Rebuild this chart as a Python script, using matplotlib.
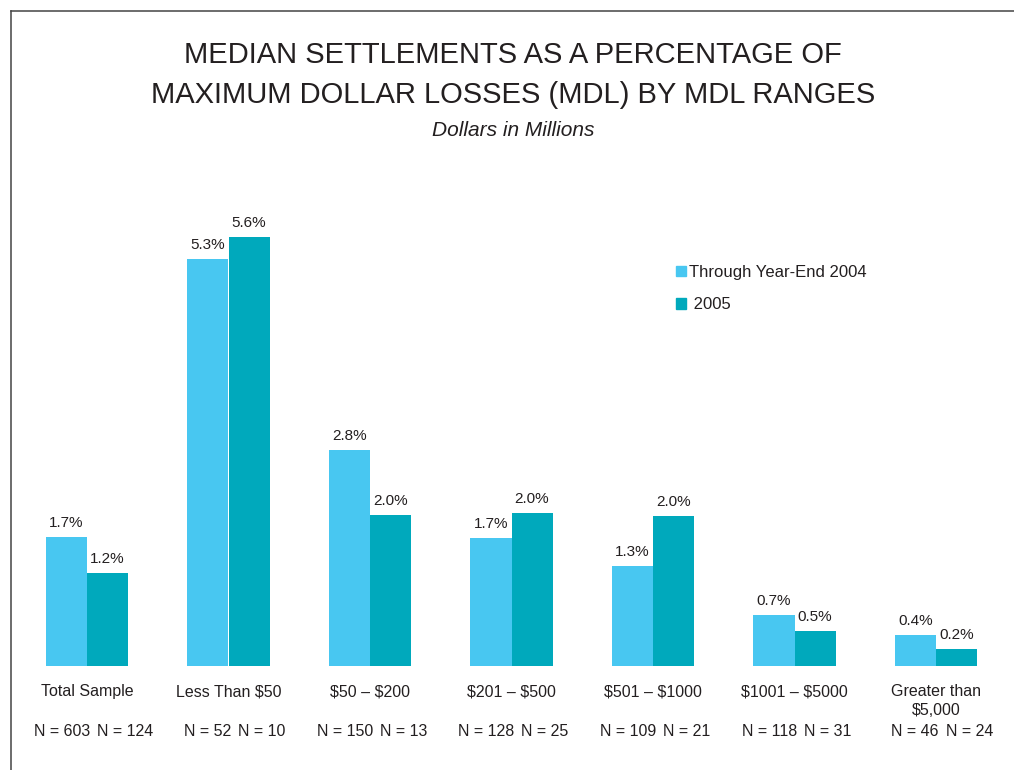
import matplotlib
matplotlib.use("Agg")
import matplotlib.pyplot as plt
from matplotlib.lines import Line2D
from matplotlib.patches import Patch
from matplotlib.transforms import blended_transform_factory
import numpy as np

plt.rcParams['font.family'] = ['Liberation Sans', 'DejaVu Sans']

# data
categories = ["Total Sample", "Less Than $50", "$50 \u2013 $200", "$201 \u2013 $500",
              "$501 \u2013 $1000", "$1001 \u2013 $5000", "Greater than\n$5,000"]
through_2004 = [1.68, 5.31, 2.82, 1.67, 1.30, 0.66, 0.40]
year_2005 = [1.21, 5.59, 1.97, 1.99, 1.96, 0.46, 0.22]
n_2004 = [603, 52, 150, 128, 109, 118, 46]
n_2005 = [124, 10, 13, 25, 21, 31, 24]
series_names = ["Through Year-End 2004", " 2005"]

LIGHT = "#48C7F1"
DARK = "#00A9BC"
TXT = "#231F20"

W, H = 1014, 770
fig = plt.figure(figsize=(W / 100, H / 100), dpi=100)

# axes placed so that bar groups land where the reference puts them
ax = fig.add_axes([16.25 / W, 104 / H, 990.5 / W, 537 / H])
ax.set_xlim(-0.5, 6.5)
ax.set_ylim(0, 7)
ax.axis("off")

x = np.arange(len(categories))
bw = 0.29
b1 = ax.bar(x - bw / 2, through_2004, bw, color=LIGHT, label=series_names[0])
b2 = ax.bar(x + bw / 2, year_2005, bw, color=DARK, label=series_names[1])

for bars, vals in ((b1, through_2004), (b2, year_2005)):
    for rect, v in zip(bars, vals):
        ax.annotate(f"{v:.1f}%", (rect.get_x() + rect.get_width() / 2, v),
                    xytext=(0, 5), textcoords="offset points",
                    ha="center", va="bottom", fontsize=11, color=TXT)

tr = blended_transform_factory(ax.transData, fig.transFigure)
for i, cat in enumerate(categories):
    ax.text(i, 1 - 684 / H, cat, transform=tr, ha="center", va="top",
            fontsize=11.5, color=TXT, linespacing=1.3, parse_math=False)
    ax.text(i + 0.02, 1 - 732 / H, f"N = {n_2004[i]}", transform=tr,
            ha="right", va="center", fontsize=11.5, color=TXT)
    ax.text(i + 0.07, 1 - 732 / H, f"N = {n_2005[i]}", transform=tr,
            ha="left", va="center", fontsize=11.5, color=TXT)

fig.text(513 / W, 1 - 55 / H, "MEDIAN SETTLEMENTS AS A PERCENTAGE OF",
         ha="center", va="center", fontsize=21, color=TXT)
fig.text(513 / W, 1 - 95 / H, "MAXIMUM DOLLAR LOSSES (MDL) BY MDL RANGES",
         ha="center", va="center", fontsize=21, color=TXT)
fig.text(513 / W, 1 - 131 / H, "Dollars in Millions", ha="center", va="center",
         fontsize=15, style="italic", color=TXT)

handles = [Patch(color=LIGHT), Patch(color=DARK)]
leg = fig.legend(handles, series_names, loc="upper left",
                 bbox_to_anchor=(676 / W, 1 - 265 / H), frameon=False,
                 fontsize=12, handlelength=0.6, handleheight=0.6,
                 handletextpad=0.2, labelspacing=1.05, borderpad=0,
                 borderaxespad=0)
for t in leg.get_texts():
    t.set_color(TXT)

# frame around the page (only top and left edges show)
fig.add_artist(Line2D([10.5 / W, 1.0], [1 - 10.5 / H] * 2, color="#444444", lw=1.1))
fig.add_artist(Line2D([10.5 / W] * 2, [0.0, 1 - 10.5 / H], color="#444444", lw=1.1))

fig.savefig("out.png", dpi=100)
